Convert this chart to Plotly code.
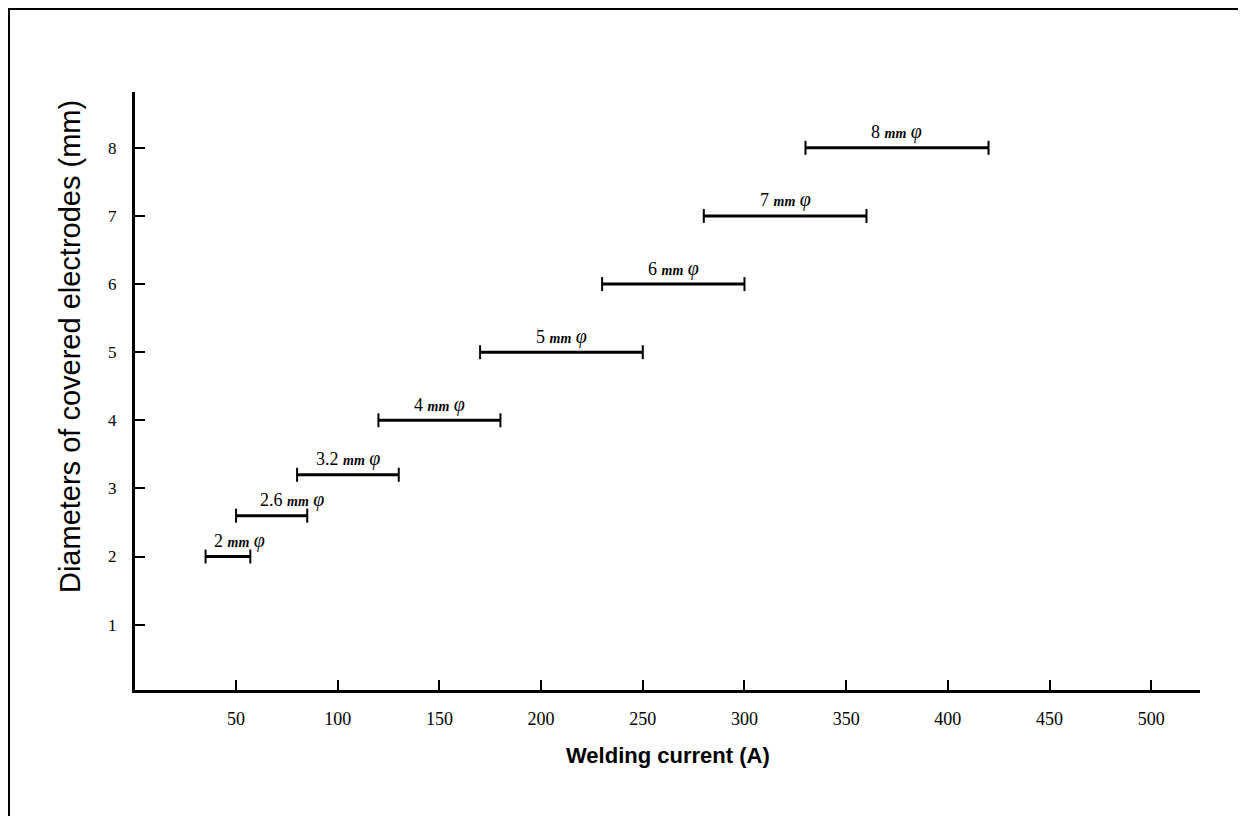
import plotly.graph_objects as go

# electrode diameter (mm) and recommended welding current range (A)
diameters = [2, 2.6, 3.2, 4, 5, 6, 7, 8]
current_min = [35, 50, 80, 120, 170, 230, 280, 330]
current_max = [57, 85, 130, 180, 250, 300, 360, 420]
diam_labels = ["2", "2.6", "3.2", "4", "5", "6", "7", "8"]

x_ticks = [50, 100, 150, 200, 250, 300, 350, 400, 450, 500]
y_ticks = [1, 2, 3, 4, 5, 6, 7, 8]

# small label nudges for the crowded low end
label_dx = {0: 12, 1: 20}

xs, ys = [], []
for d, lo, hi in zip(diameters, current_min, current_max):
    xs += [lo, hi, None]
    ys += [d, d, None]

fig = go.Figure()
fig.add_trace(go.Scatter(
    x=xs, y=ys,
    mode="lines+markers",
    line=dict(color="black", width=3),
    marker=dict(symbol="line-ns-open", size=10, line=dict(color="black", width=2)),
    hoverinfo="skip",
    showlegend=False,
))

for i, (d, lo, hi, lab) in enumerate(zip(diameters, current_min, current_max, diam_labels)):
    fig.add_annotation(
        x=(lo + hi) / 2, y=d,
        text=(lab + " <b><i><span style='font-size:14px'>mm</span></i></b> "
              "<span style='font-size:20px'><i>φ</i></span>"),
        showarrow=False,
        xshift=label_dx.get(i, 0), yshift=16,
        font=dict(family="Liberation Serif", size=18, color="black"),
    )

# axis titles
fig.add_annotation(
    xref="paper", yref="paper", x=0.5, y=-0.1087,
    xanchor="center", yanchor="middle",
    text="<b>Welding current (A)</b>", showarrow=False,
    font=dict(family="Liberation Sans", size=22, color="black"),
)
fig.add_annotation(
    xref="paper", yref="paper", x=-0.061, y=0.5736,
    xanchor="center", yanchor="middle",
    text="Diameters of covered electrodes (mm)", showarrow=False,
    textangle=-90,
    font=dict(family="Liberation Sans", size=29, color="black"),
)

# outer frame (only top/left edges visible in the page)
fig.add_shape(type="rect", xref="paper", yref="paper",
              x0=-0.11878, y0=-0.5, x1=1.2, y1=1.13963,
              line=dict(color="black", width=3))

fig.update_layout(
    width=1238, height=808,
    margin=dict(l=127, r=46, t=84, b=126),
    plot_bgcolor="white", paper_bgcolor="white",
    font=dict(family="Liberation Serif", size=17, color="black"),
    xaxis=dict(
        range=[0.3, 524], tickvals=x_ticks, ticks="inside", ticklen=10,
        tickwidth=1.5, tickcolor="black", showgrid=False, zeroline=False,
        showline=True, linecolor="black", linewidth=3,
        ticklabelstandoff=10, tickfont=dict(size=18),
    ),
    yaxis=dict(
        range=[0.04, 8.82], tickvals=y_ticks, ticks="inside", ticklen=10,
        tickwidth=1.5, tickcolor="black", showgrid=False, zeroline=False,
        showline=True, linecolor="black", linewidth=3,
        ticklabelstandoff=12, tickfont=dict(size=17),
    ),
)

fig.write_html("out.html")
